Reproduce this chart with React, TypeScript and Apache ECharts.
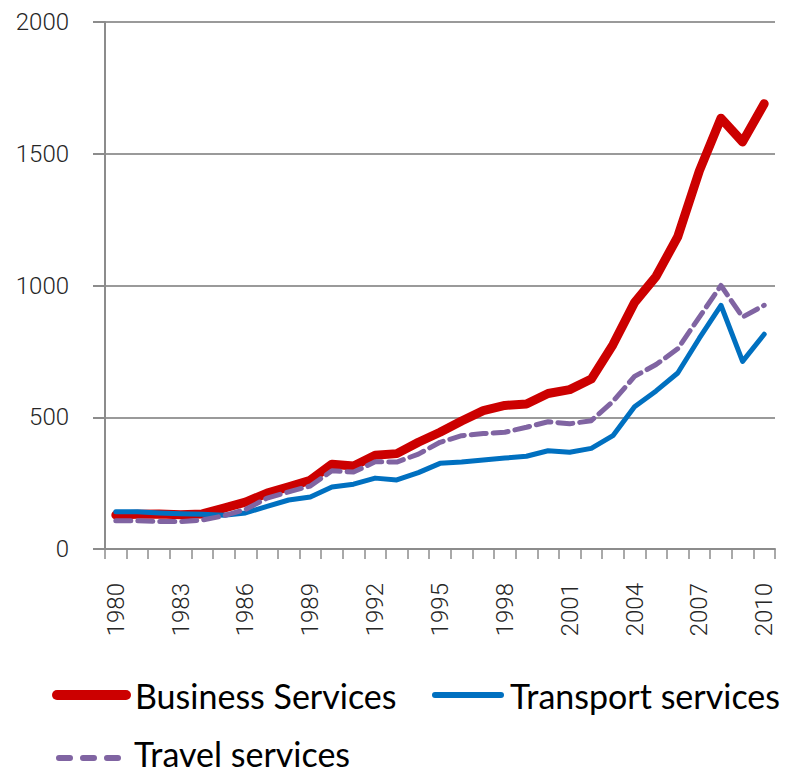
import React, { useEffect, useRef } from "react";
import * as echarts from "echarts";

const years = [
  "1980","1981","1982","1983","1984","1985","1986","1987","1988","1989",
  "1990","1991","1992","1993","1994","1995","1996","1997","1998","1999",
  "2000","2001","2002","2003","2004","2005","2006","2007","2008","2009","2010",
];
const business = [129,132,133,130,133,155,178,212,236,261,322,315,356,362,405,443,486,525,545,550,590,605,645,775,935,1035,1185,1435,1635,1545,1690];
const transport = [141,141,137,134,132,128,137,162,186,197,235,246,269,262,290,325,330,338,345,352,373,367,382,430,540,600,668,800,925,712,815];
const travel = [107,107,104,104,110,126,150,193,217,239,297,292,331,330,360,405,430,438,443,462,483,475,487,560,655,700,760,880,1000,880,925];

const seriesNames = ["Business Services", "Transport services", "Travel services"];
const colors = ["#CC0000", "#0070C0", "#8064A2"];

export default function App() {
  const ref = useRef<HTMLDivElement>(null);
  useEffect(() => {
    if (!ref.current) return;
    const chart = echarts.init(ref.current, null, { renderer: "svg" });
    const axisFont = { fontFamily: "Roboto", fontWeight: 300, fontSize: 24, color: "#262626" };
    const legendFont = { fontFamily: "Lato", fontSize: 34, fill: "#000" };
    chart.setOption({
      animation: false,
      backgroundColor: "#fff",
      grid: { left: 105, right: 12, top: 22, bottom: 223, containLabel: false },
      xAxis: {
        type: "category",
        data: years,
        boundaryGap: true,
        axisLine: { show: true, lineStyle: { color: "#8c8c8c", width: 2 } },
        axisTick: { show: true, interval: 0, length: 10, lineStyle: { color: "#8c8c8c", width: 1.5 } },
        axisLabel: { interval: 2, rotate: 90, margin: 34, ...axisFont },
        splitLine: { show: false },
      },
      yAxis: {
        type: "value",
        min: 0,
        max: 2000,
        interval: 500,
        axisLine: { show: true, lineStyle: { color: "#8c8c8c", width: 2 } },
        axisTick: { show: true, length: 12, lineStyle: { color: "#8c8c8c", width: 2 } },
        axisLabel: { margin: 36, formatter: (v: number) => String(v), ...axisFont },
        splitLine: { show: true, lineStyle: { color: "#9a9a9a", width: 2 } },
      },
      series: [
        {
          name: seriesNames[0],
          type: "line",
          data: business,
          showSymbol: false,
          symbol: "none",
          lineStyle: { color: colors[0], width: 9, cap: "round", join: "round" },
          z: 2,
        },
        {
          name: seriesNames[1],
          type: "line",
          data: transport,
          showSymbol: false,
          symbol: "none",
          lineStyle: { color: colors[1], width: 5, cap: "round", join: "round" },
          z: 3,
        },
        {
          name: seriesNames[2],
          type: "line",
          data: travel,
          showSymbol: false,
          symbol: "none",
          lineStyle: { color: colors[2], width: 5, type: [15, 7], cap: "round", join: "round" },
          z: 4,
        },
      ],
      graphic: [
        { type: "line", shape: { x1: 57, y1: 695, x2: 126, y2: 695 }, style: { stroke: colors[0], lineWidth: 10, lineCap: "round" } },
        { type: "text", x: 135, y: 695, style: { text: seriesNames[0], ...legendFont, verticalAlign: "middle" } },
        { type: "line", shape: { x1: 435, y1: 695, x2: 501, y2: 695 }, style: { stroke: colors[1], lineWidth: 6, lineCap: "round" } },
        { type: "text", x: 510, y: 695, style: { text: seriesNames[1], ...legendFont, verticalAlign: "middle" } },
        { type: "line", shape: { x1: 59, y1: 758, x2: 118, y2: 758 }, style: { stroke: colors[2], lineWidth: 6, lineCap: "round", lineDash: [11, 13] } },
        { type: "text", x: 134, y: 753, style: { text: seriesNames[2], ...legendFont, verticalAlign: "middle" } },
      ],
    });
    return () => chart.dispose();
  }, []);
  return <div ref={ref} style={{ width: 787, height: 772, position: "absolute", left: 0, top: 0 }} />;
}
